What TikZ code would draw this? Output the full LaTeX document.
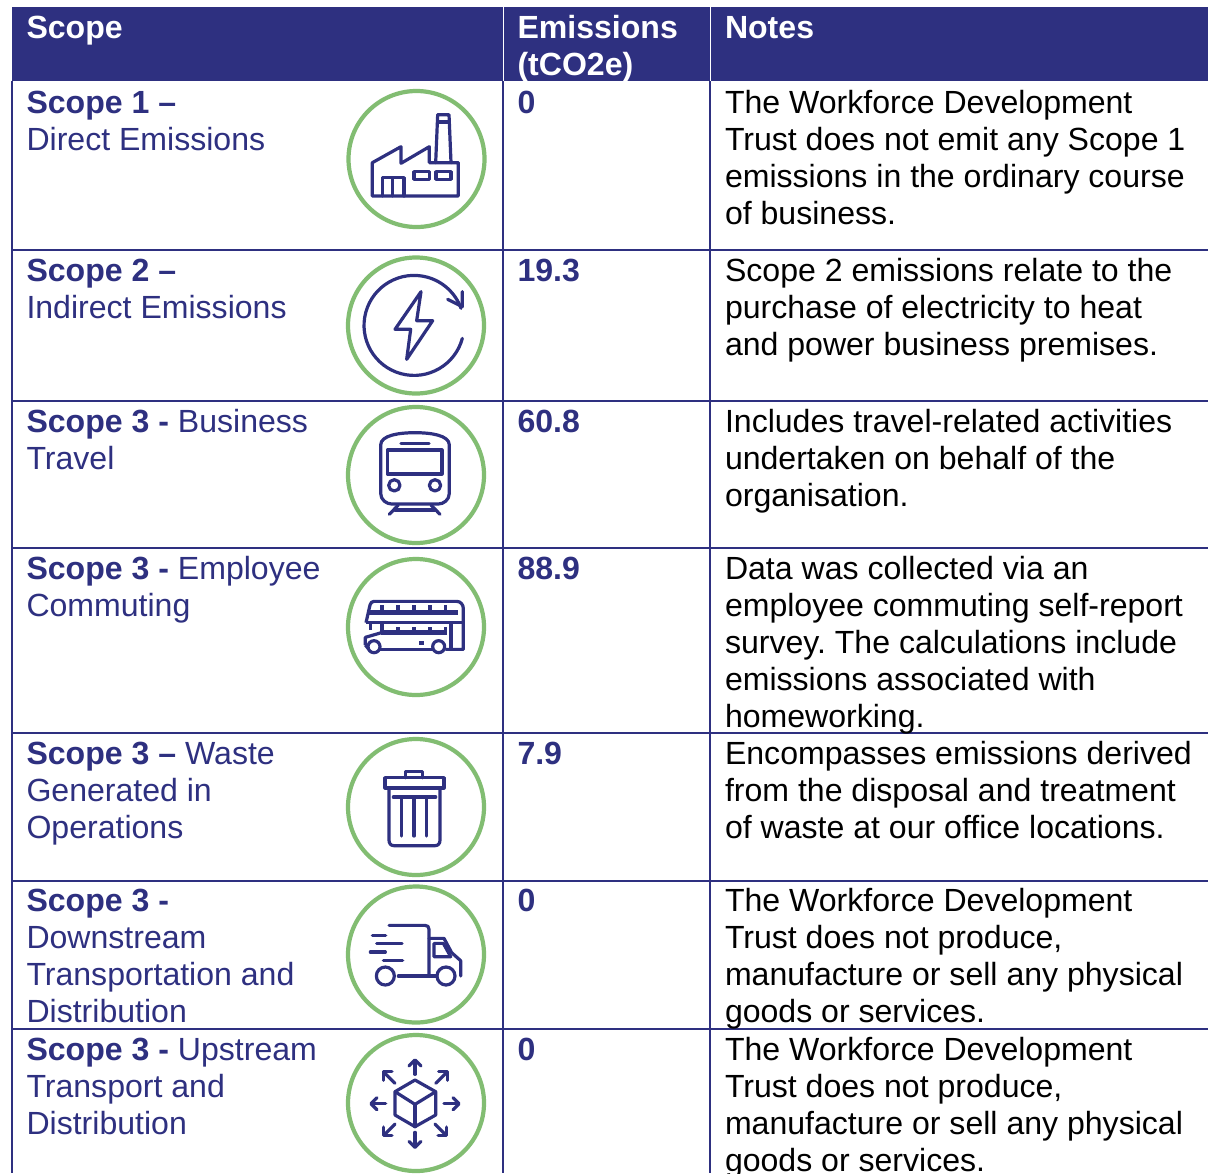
\documentclass[tikz,border=0pt]{standalone}
\usepackage{fontspec}
\setmainfont{Liberation Sans}
\usetikzlibrary{arrows.meta}
\definecolor{navy}{HTML}{2E3080}
\definecolor{leaf}{HTML}{82BD72}
\newcommand{\fl}{\rule{0pt}{12pt}}
\newcommand{\hb}[1]{\textbf{#1}}
\frenchspacing
\tikzset{
  cell/.style={anchor=north west,inner sep=0pt,outer sep=0pt,align=left,
    font=\fontsize{16.03pt}{18.5pt}\selectfont\frenchspacing},
  headcell/.style={cell,text=white,font=\fontsize{16.03pt}{18.5pt}\selectfont\bfseries},
  scopecell/.style={cell,text=navy},
  valcell/.style={cell,text=navy,font=\fontsize{16.03pt}{18.5pt}\selectfont\bfseries},
  notecell/.style={cell,text=black},
  rule/.style={draw=navy,line width=1pt},
  ring/.style={draw=leaf,line width=2.1pt},
  ico/.style={draw=navy,line width=1.6pt,line cap=round,line join=round},
  zoomed/.style={x=0.166667pt,y=-0.166667pt},
  outarrow/.style={ico,-{Straight Barb[length=3pt,width=6pt,round]}}
}
\begin{document}
\begin{tikzpicture}[x=0.5pt,y=-0.5pt]
\useasboundingbox (0,0) rectangle (1208,1173);
\fill[white] (0,0) rectangle (1208,1173);
% header
\fill[navy] (12,7) rectangle (1208,81);
\draw[white,line width=0.5pt] (503,7) -- (503,81);
\draw[white,line width=0.5pt] (710,7) -- (710,81);
% grid
\draw[rule] (12,81) -- (12,1173);
\draw[rule] (503,81) -- (503,1173);
\draw[rule] (710,81) -- (710,1173);
\foreach \yy in {250,401,548,733,881,1029} \draw[rule] (12,\yy) -- (1208,\yy);
% header texts
\node[headcell] (h1) at (26.5,14) {\fl Scope};
\node[headcell] (h2) at (517.5,14) {\fl Emissions\\(tCO2e)};
\node[headcell] (h3) at (725,14) {\fl Notes};
% scope column
\node[scopecell] (s1) at (26.5,89) {\fl\hb{Scope 1 –}\\Direct Emissions};
\node[scopecell] (s2) at (26.5,257) {\fl\hb{Scope 2 –}\\Indirect Emissions};
\node[scopecell] (s3) at (26.5,408) {\fl\hb{Scope 3 -} Business\\Travel};
\node[scopecell] (s4) at (26.5,555) {\fl\hb{Scope 3 -} Employee\\Commuting};
\node[scopecell] (s5) at (26.5,740) {\fl\hb{Scope 3 –} Waste\\Generated in\\Operations};
\node[scopecell] (s6) at (26.5,887) {\fl\hb{Scope 3 -}\\Downstream\\Transportation and\\Distribution};
\node[scopecell] (s7) at (26.5,1036) {\fl\hb{Scope 3 -} Upstream\\Transport and\\Distribution};
% values
\node[valcell] (v1) at (517.5,89) {\fl 0};
\node[valcell] (v2) at (517.5,257) {\fl 19.3};
\node[valcell] (v3) at (517.5,408) {\fl 60.8};
\node[valcell] (v4) at (517.5,555) {\fl 88.9};
\node[valcell] (v5) at (517.5,740) {\fl 7.9};
\node[valcell] (v6) at (517.5,887) {\fl 0};
\node[valcell] (v7) at (517.5,1036) {\fl 0};
% notes
\node[notecell] (n1) at (725,89) {\fl The Workforce Development\\Trust does not emit any Scope 1\\emissions in the ordinary course\\of business.};
\node[notecell] (n2) at (725,257) {\fl Scope 2 emissions relate to the\\purchase of electricity to heat\\and power business premises.};
\node[notecell] (n3) at (725,408) {\fl Includes travel-related activities\\undertaken on behalf of the\\organisation.};
\node[notecell] (n4) at (725,555) {\fl Data was collected via an\\employee commuting self-report\\survey. The calculations include\\emissions associated with\\homeworking.};
\node[notecell] (n5) at (725,740) {\fl Encompasses emissions derived\\from the disposal and treatment\\of waste at our office locations.};
\node[notecell] (n6) at (725,887) {\fl The Workforce Development\\Trust does not produce,\\manufacture or sell any physical\\goods or services.};
\node[notecell] (n7) at (725,1036) {\fl The Workforce Development\\Trust does not produce,\\manufacture or sell any physical\\goods or services.};
% rings
\foreach \cy/\cx in {159/416.5,325.5/416,475/416,627/416,807/416,954.5/416,1103/416} \draw[ring] (\cx,\cy) circle[radius=68];
% factory
\begin{scope}[shift={(340,80)},zoomed]
\draw[ico] (97,348) -- (97,248) -- (183,200) -- (183,250) -- (268,200) -- (268,248) -- (355,248) -- (355,348) -- cycle;
\draw[ico] (287,248) -- (293,104) -- (327,104) -- (333,248);
\draw[ico] (293,126) -- (327,126);
\draw[ico] (127,348) -- (127,293) -- (192,293) -- (192,348);
\draw[ico] (157,293) -- (157,348);
\draw[ico] (222,275) rectangle (268,298);
\draw[ico] (288,275) rectangle (333,298);
% power
\draw[ico] (367,775) arc[start angle=15,end angle=340,radius=150];
\draw[ico] (367,635) -- (367,680) -- (323,658);
\draw[ico] (243,635) -- (165,748) -- (212,748) -- (200,838) -- (278,722) -- (230,722) -- cycle;
\end{scope}
% train
\begin{scope}[shift={(340,400)},zoomed]
\draw[ico] (122,280) -- (122,135) .. controls (122,105) and (180,98) .. (225,98) .. controls (270,98) and (328,105) .. (328,135) -- (328,280) .. controls (328,300) and (310,312) .. (295,312) -- (155,312) .. controls (140,312) and (122,300) .. (122,280) -- cycle;
\draw[ico] (183,130) -- (267,130);
\draw[ico] (142,150) rectangle (306,222);
\draw[ico] (163,256) circle[radius=17];
\draw[ico] (285,256) circle[radius=17];
\draw[ico] (175,315) -- (148,343);
\draw[ico] (273,315) -- (300,343);
\draw[ico] (165,330) -- (285,330);
% bus
\begin{scope}[ico/.append style={line cap=butt}]
\draw[ico] (78,668) -- (90,615) .. controls (92,608) and (96,604) .. (102,604) -- (350,604) .. controls (362,604) and (370,614) .. (370,626) -- (370,748) -- (316,748);
\draw[ico,line width=2.4pt] (80,638) -- (354,638);
\draw[ico,line width=2.4pt] (122,698) -- (322,698);
\draw[ico] (78,668) -- (370,668);
\draw[ico] (333,668) -- (333,748);
\draw[ico] (92,672) -- (92,690);
\draw[ico] (126,668) -- (126,698);
\draw[ico] (76,735) -- (76,712) -- (124,698);
\draw[ico] (76,735) -- (84,745);
\draw[ico] (120,748) -- (278,748);
\draw[ico,line width=2pt] (238,730) -- (252,730);
\foreach \tx in {126,174,222,270,316} \draw[ico] (\tx,615) -- (\tx,638);
\foreach \tx in {174,222,270,316} \draw[ico] (\tx,682) -- (\tx,698);
\draw[ico,fill=white] (102,740) circle[radius=18];
\draw[ico,fill=white] (296,740) circle[radius=18];
\end{scope}
\end{scope}
% bin and truck
\begin{scope}[shift={(340,730)},zoomed]
\draw[ico] (135,143) rectangle (312,174);
\draw[ico] (197,143) -- (197,124) -- (248,124) -- (248,143);
\draw[ico] (147,174) -- (147,330) .. controls (147,340) and (152,347) .. (162,347) -- (285,347) .. controls (295,347) and (300,340) .. (300,330) -- (300,174);
\draw[ico] (160,201) -- (287,201);
\foreach \tx in {184,222,260} \draw[ico] (\tx,201) -- (\tx,318);
\draw[ico] (147,586) -- (255,586) .. controls (263,586) and (267,590) .. (267,598) -- (267,738);
\draw[ico] (175,738) -- (290,738);
\draw[ico] (136,738) circle[radius=27];
\draw[ico] (318,738) circle[radius=27];
\draw[ico] (267,625) -- (312,625) -- (335,668) -- (362,692) -- (362,738);
\draw[ico] (282,640) -- (310,640) -- (332,680) -- (282,680) -- cycle;
\draw[ico] (97,617) -- (137,617);
\draw[ico] (110,641) -- (186,641);
\draw[ico] (91,666) -- (136,666);
\draw[ico] (130,691) -- (188,691);
\end{scope}
% cube
\begin{scope}[shift={(340,1025)},zoomed]
\draw[ico] (225,165) -- (287,200) -- (287,270) -- (225,305) -- (165,270) -- (165,200) -- cycle;
\draw[ico] (165,200) -- (225,238) -- (287,200);
\draw[ico] (225,238) -- (225,305);
\draw[outarrow] (225,148) -- (225,100);
\draw[outarrow] (312,236) -- (362,236);
\draw[outarrow] (137,236) -- (88,236);
\draw[outarrow] (225,322) -- (225,372);
\draw[outarrow] (165,175) -- (127,137);
\draw[outarrow] (287,175) -- (325,137);
\draw[outarrow] (165,297) -- (127,335);
\draw[outarrow] (285,297) -- (323,335);
\end{scope}
\end{tikzpicture}
\end{document}
